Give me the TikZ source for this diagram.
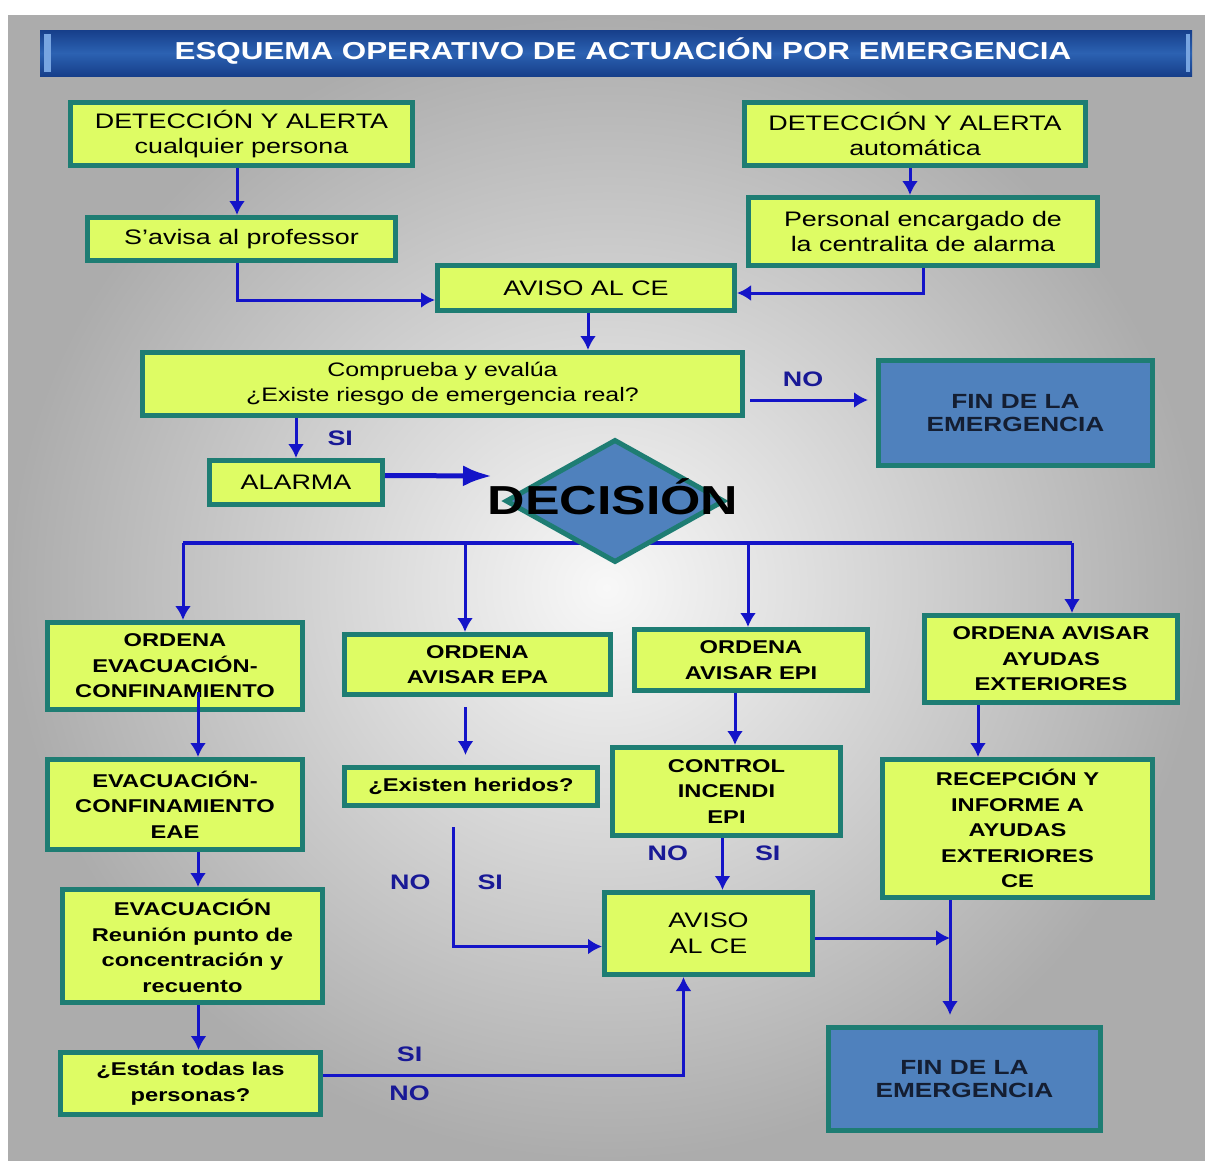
\documentclass[tikz,border=0pt]{standalone}
\usepackage{fontspec}
\setmainfont{Liberation Sans}[FakeStretch=1.28]
\usetikzlibrary{shapes.geometric,arrows.meta}
\definecolor{boxyellow}{RGB}{222,252,100}
\definecolor{boxteal}{RGB}{30,125,115}
\definecolor{finblue}{RGB}{79,129,189}
\definecolor{fintext}{RGB}{20,30,50}
\definecolor{arrowblue}{RGB}{20,20,200}
\definecolor{lblblue}{RGB}{25,25,150}
\definecolor{bgcenter}{RGB}{248,248,248}
\definecolor{bgedge}{RGB}{172,172,172}
\definecolor{titletop}{RGB}{22,62,138}
\definecolor{titlemid}{RGB}{44,98,178}
\definecolor{titlelight}{RGB}{120,165,225}
\tikzset{
	box/.style={draw=boxteal, line width=5pt, fill=boxyellow, align=center, inner sep=0pt, text=black, font=\fontsize{21}{25.5}\selectfont},
	smallbox/.style={box, font=\fontsize{19.5}{25}\selectfont},
	boldbox/.style={box, font=\bfseries\fontsize{18.5}{25.5}\selectfont},
	finbox/.style={box, fill=finblue, text=fintext, font=\bfseries\fontsize{20.5}{22.5}\selectfont},
	arr/.style={draw=arrowblue, line width=3pt, -{Latex[length=14pt,width=16pt]}},
	arrbig/.style={draw=arrowblue, line width=5pt, -{Latex[length=29pt,width=21pt]}},
	busline/.style={draw=arrowblue, line width=3.5pt},
	lbl/.style={text=lblblue, inner sep=0pt, font=\bfseries\fontsize{21}{21}\selectfont}
}
\begin{document}
\begin{tikzpicture}[x=1pt,y=-1pt]
	% background and title bar
	\fill[white] (0,0) rectangle (1205,1160);
	\shade[inner color=bgcenter, outer color=bgedge] (8,15) rectangle (1205,1160);
	\shade[top color=titletop, bottom color=titletop, middle color=titlemid] (40,30) rectangle (1192,76);
	\fill[titlelight] (44,34) rectangle (51,72);
	\fill[titlelight] (1186,34) rectangle (1190,72);
	\node[text=white, font=\bfseries\fontsize{24.5}{25}\selectfont] (title) at (623,51) {ESQUEMA OPERATIVO DE ACTUACIÓN POR EMERGENCIA};

	% detection
	\node[box, minimum width=342pt, minimum height=63pt] (det1) at (241.5,134) {DETECCIÓN Y ALERTA\\cualquier persona};
	\node[box, minimum width=341pt, minimum height=63pt] (det2) at (915,134) {DETECCIÓN Y ALERTA\\automática};
	\node[box, minimum width=308pt, minimum height=43pt] (avisa) at (241.5,239) {S’avisa al professor};
	\node[box, minimum width=349pt, minimum height=68pt] (pers) at (923,231.5) {Personal encargado de\\la centralita de alarma};
	\node[box, minimum width=297pt, minimum height=45pt] (aviso1) at (586,288) {AVISO AL CE};
	\node[smallbox, minimum width=600pt, minimum height=63pt] (comp) at (442.5,384) {Comprueba y evalúa\\¿Existe riesgo de emergencia real?};
	\node[finbox, minimum width=274pt, minimum height=105pt] (fin1) at (1015.5,413) {FIN DE LA\\EMERGENCIA};
	\node[box, minimum width=173pt, minimum height=44pt] (alarma) at (296,482.5) {ALARMA};

	% decision
	\coordinate (busL) at (183,543);
	\coordinate (busR) at (1072,543);
	\draw[busline] (busL) -- (busR);
	\node[diamond, draw=boxteal, line width=5pt, fill=finblue, minimum width=219pt, minimum height=123pt, inner sep=0pt] (dec) at (615,501) {};
	\node[font=\bfseries\fontsize{40.5}{41}\selectfont] (dectext) at (613,497) {DECISIÓN};

	% orders
	\node[boldbox, minimum width=255pt, minimum height=87pt] (ord1) at (175,666) {ORDENA\\EVACUACIÓN-\\CONFINAMIENTO};
	\node[boldbox, minimum width=266pt, minimum height=60pt] (ord2) at (477.5,664.5) {ORDENA\\AVISAR EPA};
	\node[boldbox, minimum width=233pt, minimum height=61pt] (ord3) at (751,660) {ORDENA\\AVISAR EPI};
	\node[boldbox, minimum width=253pt, minimum height=87pt] (ord4) at (1051,659) {ORDENA AVISAR\\AYUDAS\\EXTERIORES};
	\node[boldbox, minimum width=255pt, minimum height=90pt] (evac1) at (175,804.5) {EVACUACIÓN-\\CONFINAMIENTO\\EAE};
	\node[boldbox, minimum width=253pt, minimum height=38pt] (heridos) at (471,786.5) {¿Existen heridos?};
	\node[boldbox, minimum width=228pt, minimum height=88pt] (control) at (726.5,791.5) {CONTROL\\INCENDI\\EPI};
	\node[boldbox, minimum width=270pt, minimum height=138pt] (recep) at (1017.5,828.5) {RECEPCIÓN Y\\INFORME A\\AYUDAS\\EXTERIORES\\CE};
	\node[boldbox, minimum width=260pt, minimum height=113pt] (evac2) at (192.5,946) {EVACUACIÓN\\Reunión punto de\\concentración y\\recuento};
	\node[box, minimum width=208pt, minimum height=82pt] (aviso2) at (708.5,933.5) {AVISO\\AL CE};
	\node[boldbox, minimum width=260pt, minimum height=62pt] (estan) at (190.5,1083.5) {¿Están todas las\\personas?};
	\node[finbox, minimum width=272pt, minimum height=103pt] (fin2) at (964.5,1079) {FIN DE LA\\EMERGENCIA};

	\coordinate (noend) at (868,400);
	\coordinate (alend) at (492,476);
	\coordinate (join) at (950,938);

	% upper arrows
	\draw[arr] ([xshift=-4.5pt]det1.south) -- ([xshift=-4.5pt]det1.south |- avisa.north);
	\draw[arr] ([xshift=-4.5pt]avisa.south) |- ([yshift=-12pt]aviso1.west);
	\draw[arr] ([xshift=-5pt]det2.south) -- ([xshift=-5pt]det2.south |- pers.north);
	\draw[arr] (pers.south) |- ([yshift=-5pt]aviso1.east);
	\draw[arr] ([xshift=2pt]aviso1.south) -- ([xshift=2pt]aviso1.south |- comp.north);
	\draw[arr] ([xshift=5pt]comp.east |- noend) -- (noend) node[lbl, pos=0.45, above=12pt] {NO};
	\draw[arr] (alarma.north |- comp.south) -- (alarma.north) node[lbl, pos=0.5, right=30pt] {SI};
	\draw[arrbig] ([yshift=7pt]alarma.east) -- (alend);

	% branches
	\foreach \x/\n in {183/ord1, 465/ord2, 748/ord3, 1072/ord4}{
		\coordinate (b\n) at (\x,543);
		\draw[arr] (b\n) -- (b\n |- \n.north);
	}
	\draw[arr] ([xshift=23pt,yshift=20pt]ord1.south) -- ([xshift=23pt]ord1.south |- evac1.north);
	\draw[arr] ([xshift=-12pt,yshift=-10pt]ord2.south) -- ([xshift=-12pt,yshift=10pt]ord2.south |- heridos.north);
	\draw[arr] ([xshift=-16pt]ord3.south) -- ([xshift=-16pt]ord3.south |- control.north);
	\draw[arr] ([xshift=-73pt]ord4.south) -- ([xshift=-73pt]ord4.south |- recep.north);
	\draw[arr] ([xshift=23pt]evac1.south) -- ([xshift=23pt]evac1.south |- evac2.north);
	\draw[arr] ([xshift=6pt]evac2.south) -- ([xshift=6pt]evac2.south |- estan.north);

	% back to the CE
	\draw[arr] ([xshift=-18pt,yshift=-19pt]heridos.south) |- ([yshift=-13pt]aviso2.west)
		node[lbl, pos=0.23, left=21pt] {NO} node[lbl, pos=0.23, right=23pt] {SI};
	\draw[arr] ([xshift=-4pt]control.south) -- ([xshift=-4pt]control.south |- aviso2.north)
		node[lbl, pos=0.3, left=33pt] {NO} node[lbl, pos=0.3, right=31pt] {SI};
	\draw[arr] ([yshift=8pt]estan.east) -| ([xshift=-25pt]aviso2.south)
		node[lbl, pos=0.12, above=12pt] {SI} node[lbl, pos=0.12, below=9pt] {NO};
	\draw[arr] (aviso2.east |- join) -- (join);
	\draw[arr] (recep.south -| join) -- ([yshift=10pt]join |- fin2.north);
\end{tikzpicture}
\end{document}
